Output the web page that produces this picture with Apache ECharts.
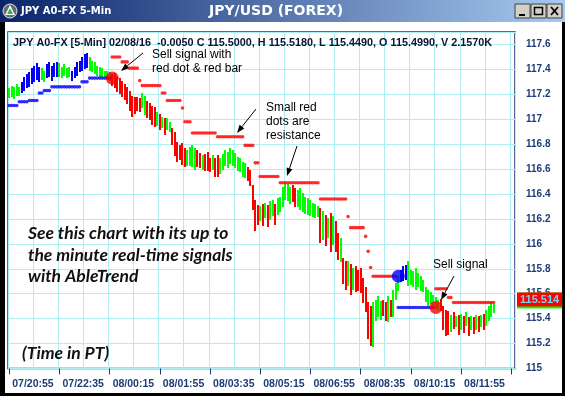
<!DOCTYPE html>
<html><head><meta charset="utf-8">
<script src="https://cdn.jsdelivr.net/npm/echarts@6/dist/echarts.min.js"></script>
<style>html,body{margin:0;padding:0;background:#000;}#c{width:565px;height:396px;}</style>
</head><body><div id="c"></div><script>
// ---------- data ----------
const xTickLabels = ['07/20:55','07/22:35','08/00:15','08/01:55','08/03:35','08/05:15','08/06:55','08/08:35','08/10:15','08/11:55'];
const barsPerTick = 20;
const categoryCount = 202;
const yTickValues = [115,115.2,115.4,115.6,115.8,116,116.2,116.4,116.6,116.8,117,117.2,117.4,117.6];
const barColorCodes = 'GGGGGBBBBBBBBGGBBBBBGGGGGBBBBBBBGGGGGGGGGRRRRRRRRRRRRGGRRRRGRGRGGRRRRRRGGGGRRGRRRGRRGGGGGGGGGGGRRRRRGRGRGGRGGGGGGRRGGGGGGGGGRGRGRGRRGRRGRGRRRRRRRGGGGRRGRGGGBBBGGGGGGGGGGGGGRRRRGRGRGRGRGRGRGRGGGG';
const barHigh = [
117.25,117.27,117.26,117.28,117.26,117.30,117.34,117.36,117.38,117.41,
117.43,117.45,117.42,117.41,117.39,117.44,117.46,117.43,117.45,117.46,
117.45,117.42,117.44,117.41,117.42,117.39,117.42,117.46,117.47,117.50,
117.52,117.53,117.50,117.47,117.46,117.43,117.42,117.41,117.39,117.39,
117.38,117.36,117.37,117.34,117.33,117.31,117.28,117.26,117.23,117.19,
117.18,117.18,117.17,117.21,117.19,117.15,117.13,117.11,117.10,117.06,
117.04,117.02,117.01,117.01,116.98,116.93,116.90,116.82,116.79,116.81,
116.77,116.75,116.78,116.79,116.77,116.75,116.73,116.71,116.72,116.74,
116.69,116.71,116.69,116.71,116.69,116.72,116.75,116.74,116.77,116.75,
116.73,116.70,116.69,116.66,116.65,116.62,116.59,116.47,116.35,116.31,
116.30,116.32,116.33,116.31,116.34,116.35,116.32,116.37,116.38,116.46,
116.49,116.48,116.46,116.47,116.45,116.43,116.45,116.41,116.38,116.37,
116.35,116.33,116.32,116.30,116.29,116.26,116.23,116.21,116.25,116.22,
116.18,116.09,116.05,115.89,115.86,115.86,115.84,115.81,115.82,115.79,
115.81,115.73,115.65,115.53,115.50,115.53,115.55,115.58,115.54,115.55,
115.53,115.58,115.55,115.63,115.69,115.74,115.79,115.82,115.83,115.86,
115.79,115.78,115.81,115.77,115.74,115.71,115.65,115.63,115.61,115.59,
115.57,115.55,115.56,115.50,115.47,115.46,115.43,115.45,115.42,115.43,
115.44,115.42,115.45,115.41,115.42,115.41,115.43,115.42,115.43,115.44,
115.47,115.50,115.53,115.518];
const barLow = [
117.17,117.18,117.16,117.18,117.19,117.21,117.23,117.25,117.26,117.28,
117.30,117.31,117.30,117.31,117.30,117.33,117.34,117.31,117.34,117.34,
117.34,117.33,117.34,117.33,117.34,117.31,117.33,117.35,117.38,117.39,
117.40,117.41,117.39,117.38,117.36,117.35,117.34,117.34,117.33,117.32,
117.31,117.26,117.25,117.22,117.20,117.18,117.15,117.12,117.07,117.02,
117.04,117.07,117.06,117.09,117.04,117.01,116.99,116.96,116.94,116.95,
116.91,116.93,116.87,116.91,116.90,116.79,116.71,116.66,116.67,116.63,
116.62,116.62,116.63,116.61,116.59,116.61,116.61,116.59,116.58,116.59,
116.58,116.59,116.54,116.53,116.56,116.59,116.62,116.61,116.64,116.62,
116.61,116.59,116.58,116.54,116.53,116.51,116.46,116.27,116.10,116.15,
116.18,116.14,116.21,116.13,116.19,116.22,116.15,116.23,116.26,116.30,
116.35,116.34,116.32,116.33,116.30,116.29,116.27,116.26,116.24,116.23,
116.22,116.22,116.21,116.21,116.01,116.03,115.98,116.05,115.94,115.99,
115.93,115.87,115.86,115.68,115.63,115.66,115.59,115.63,115.61,115.62,
115.61,115.53,115.45,115.23,115.18,115.17,115.38,115.41,115.39,115.42,
115.38,115.37,115.41,115.41,115.55,115.62,115.69,115.70,115.71,115.66,
115.67,115.65,115.63,115.66,115.62,115.61,115.53,115.50,115.51,115.50,
115.47,115.46,115.46,115.31,115.26,115.27,115.29,115.31,115.33,115.27,
115.31,115.28,115.34,115.26,115.31,115.27,115.31,115.29,115.33,115.31,
115.34,115.38,115.41,115.449];
// support (blue) and resistance (red) dot levels: [firstBar, lastBar, price]
const supportRuns = [[0,3,117.11],[4,7,117.14],[8,11,117.15],[12,13,117.21],[14,16,117.23],[17,28,117.26],[29,31,117.30],[32,40,117.33],[155,169,115.49]];
const resistanceRuns = [[41,44,117.50],[45,47,117.46],[48,51,117.41],[52,52,117.31],[53,60,117.27],[61,62,117.21],[63,68,117.15],[69,69,117.09],[70,72,116.98],[73,82,116.89],[83,93,116.86],[94,97,116.79],[98,99,116.65],[100,107,116.54],[108,123,116.49],[124,134,116.36],[135,135,116.22],[136,141,116.13],[142,142,116.06],[143,143,115.94],[144,144,115.81],[145,154,115.74],[170,174,115.64],[175,176,115.57],[177,193,115.53]];
const signalBar = [41,155,170];
const signalPrice = [117.33,115.74,115.49];
const signalType = ['R','B','R'];
const lastPrice = 115.514;

// ---------- chart ----------
const COL = {R:'#ff0000', G:'#00ff00', B:'#0000ff'};
const AXC = '#1c3c78';
const GRIDC = '#b0eef2';
function expand(runs){const o=[];runs.forEach(([a,b,v])=>{for(let i=a;i<=b;i++)o.push([i,v]);});return o;}
const cats = Array.from({length:categoryCount},(_,i)=>String(i));
const barData = barHigh.map((h,i)=>({value:[i,h,barLow[i]], itemStyle:{color:COL[barColorCodes[i]]}}));
const sigData = signalBar.map((b,k)=>({value:[b,signalPrice[k]], itemStyle:{color:COL[signalType[k]]}}));

function arrow(x1,y1,x2,y2){
  const dx=x2-x1, dy=y2-y1, L=Math.hypot(dx,dy), ux=dx/L, uy=dy/L, hl=8, hw=3;
  const bx=x2-ux*hl, by=y2-uy*hl;
  return [
    {type:'line', z:100, shape:{x1,y1,x2:bx,y2:by}, style:{stroke:'#000', lineWidth:1}},
    {type:'polygon', z:100, shape:{points:[[x2,y2],[bx-uy*hw,by+ux*hw],[bx+uy*hw,by-ux*hw]]}, style:{fill:'#000'}}
  ];
}
function txt(x,y,t,font,fill,align){return {type:'text', z:100, style:{x,y,text:t,font,fill:fill||'#000',align:align||'left',verticalAlign:'middle'}};}
function btn(x){return {type:'rect', z:100, shape:{x,y:4,width:15,height:14}, style:{fill:'#d4d0c8', stroke:'#404040', lineWidth:1}};}

const annFont = '12px "Liberation Sans", Arial, sans-serif';
const itFont = 'italic bold 17.5px Lato, "Open Sans", sans-serif';
const graphics = [
  {type:'rect', z:-1, shape:{x:0,y:0,width:565,height:22}, style:{fill:new echarts.graphic.LinearGradient(0,0,1,0,[{offset:0,color:'#0a246a'},{offset:1,color:'#a6caf0'}])}},
  {type:'rect', shape:{x:0,y:22,width:5,height:374}, style:{fill:'#000'}},
  {type:'rect', shape:{x:562,y:22,width:3,height:374}, style:{fill:'#000'}},
  {type:'rect', shape:{x:0,y:393,width:565,height:3}, style:{fill:'#000'}},
  {type:'circle', z:100, shape:{cx:10,cy:11,r:7}, style:{fill:'#5f6f6f', stroke:'#e0e0e0', lineWidth:1}},
  {type:'polygon', z:101, shape:{points:[[10,5],[15,15],[5,15]]}, style:{fill:'#ffffff'}},
  {type:'polygon', z:102, shape:{points:[[10,8],[13,14],[7,14]]}, style:{fill:'#3cb043'}},
  txt(21,11,'JPY A0-FX 5-Min','bold 10px "DejaVu Sans", sans-serif','#fff'),
  txt(276,11,'JPY/USD (FOREX)','bold 14px "DejaVu Sans", sans-serif','#fff','center'),
  btn(515), btn(531), btn(547),
  {type:'line', z:101, shape:{x1:519,y1:15,x2:525,y2:15}, style:{stroke:'#000', lineWidth:2}},
  {type:'rect', z:101, shape:{x:534.5,y:7.5,width:8,height:7}, style:{fill:'none', stroke:'#000', lineWidth:1.5}},
  {type:'line', z:101, shape:{x1:551,y1:7,x2:558,y2:15}, style:{stroke:'#000', lineWidth:1.8}},
  {type:'line', z:101, shape:{x1:558,y1:7,x2:551,y2:15}, style:{stroke:'#000', lineWidth:1.8}},
  txt(13,43,'JPY A0-FX [5-Min] 02/08/16  -0.0050 C 115.5000, H 115.5180, L 115.4490, O 115.4990, V 2.1570K','bold 10.8px "Liberation Sans", Arial, sans-serif','#101030'),
  txt(152,55,'Sell signal with',annFont),
  txt(152,69,'red dot & red bar',annFont),
  txt(266,108,'Small red',annFont),
  txt(266,122,'dots are',annFont),
  txt(266,136,'resistance',annFont),
  txt(433,265,'Sell signal',annFont),
  txt(28,233,'See this chart with its up to',itFont,'#111'),
  txt(28,255,'the minute real-time signals',itFont,'#111'),
  txt(28,276,'with AbleTrend',itFont,'#111'),
  txt(22,353,'(Time in PT)',itFont,'#111')
].concat(arrow(143,53,121,71), arrow(256,109,237,133), arrow(297,146,287,176), arrow(454,276,441,300));

const chart = echarts.init(document.getElementById('c'), null, {renderer:'canvas'});
chart.setOption({
  animation:false,
  backgroundColor:'#fff',
  graphic: graphics,
  grid:{left:8, right:50, top:32, bottom:27.5, show:true, backgroundColor:'#fff', borderColor:'#1a3a80', borderWidth:1.5},
  xAxis:{
    type:'category', data:cats, boundaryGap:true,
    axisLine:{show:false},
    axisTick:{show:true, alignWithLabel:true, interval:(i)=>i%barsPerTick===0, length:6, lineStyle:{color:AXC, width:1}},
    axisLabel:{interval:(i)=>i%barsPerTick===0, formatter:(v,i)=>xTickLabels[i/barsPerTick]||'', align:'left', padding:[0,0,0,3], margin:10,
      color:AXC, fontWeight:'bold', fontSize:10.5, fontFamily:'"Liberation Sans", Arial, sans-serif'},
    splitLine:{show:true, interval:(i)=>i%10===0, lineStyle:{color:GRIDC, width:1}}
  },
  yAxis:{
    type:'value', position:'right', min:yTickValues[0], max:117.7, interval:0.2, scale:true,
    axisLine:{show:false}, axisTick:{show:false},
    axisLabel:{margin:11, color:AXC, fontWeight:'bold', fontSize:10, fontFamily:'"Liberation Sans", Arial, sans-serif',
      formatter:(v)=>yTickValues.some(t=>Math.abs(t-v)<1e-6)?String(+v.toFixed(1)):''},
    splitLine:{show:true, lineStyle:{color:GRIDC, width:1}}
  },
  series:[
    {type:'custom', data:barData, encode:{x:0,y:[1,2]}, z:3,
      renderItem:(params,api)=>{
        const i=api.value(0), p1=api.coord([i,api.value(1)]), p2=api.coord([i,api.value(2)]);
        return {type:'rect', shape:{x:Math.round(p1[0]-1), y:Math.round(p1[1]), width:2, height:Math.max(1,Math.round(p2[1]-p1[1]))}, style:{fill:api.visual('color')}};
      }
    },
    {type:'scatter', data:expand(supportRuns), symbolSize:3.6, itemStyle:{color:'#0000ff'}, z:4, silent:true},
    {type:'scatter', data:expand(resistanceRuns), symbolSize:3.6, itemStyle:{color:'#ff0000'}, z:4, silent:true},
    {type:'scatter', data:sigData, symbolSize:13, z:5, silent:true},
    {type:'line', data:[], z:10, silent:true,
      markLine:{silent:true, symbol:['none','none'], precision:3, animation:false,
        lineStyle:{color:'#00ff00', width:0, opacity:1, type:'solid'},
        data:[{yAxis:lastPrice}],
        label:{show:true, opacity:1, position:'end', distance:2, verticalAlign:'middle', offset:[0,-4], formatter:'{a|'+lastPrice.toFixed(3)+'}',
          backgroundColor:'#00ff00', padding:[0,0,2,0],
          rich:{a:{backgroundColor:'#ff0000', color:'#6fd6f5', fontWeight:'bold', fontSize:11, fontFamily:'"Liberation Sans", Arial, sans-serif', padding:[2,3,1,3]}}}}
    }
  ]
});
</script></body></html>
